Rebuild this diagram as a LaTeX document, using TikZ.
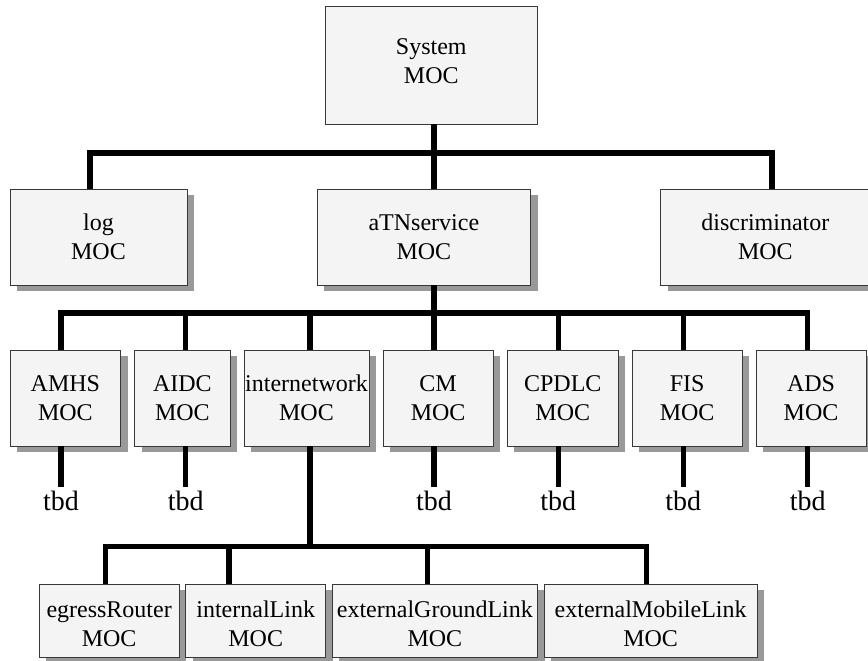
\documentclass[tikz,border=0pt]{standalone}
\usepackage{fontspec}
\setmainfont{Liberation Serif}
\usetikzlibrary{calc,shadows}
\definecolor{boxfill}{HTML}{F4F4F4}
\definecolor{boxline}{HTML}{383838}
\definecolor{shade}{HTML}{999999}
\begin{document}
\begin{tikzpicture}[x=1pt,y=-1pt,
  plainbox/.style={draw=boxline,line width=0.9pt,fill=boxfill,inner sep=0pt,align=center,
    font=\fontsize{24}{28.5}\selectfont},
  moc/.style={plainbox,
    drop shadow={shadow xshift=7pt,shadow yshift=-6pt,fill=shade,opacity=1}},
  bus/.style={line width=5.5pt,line join=miter},
  tbd/.style={font=\fontsize{28}{32}\selectfont,anchor=base}]
  \useasboundingbox (0,0) rectangle (868,661);
  \clip (0,0) rectangle (868,661);
  \fill[white] (0,0) rectangle (868,661);
  \node[plainbox,minimum width=212.7,minimum height=118] (sys) at (431.3,65) {System\\MOC\\[-20.5pt]};
  \foreach \name/\l/\r/\sx/\lab in {
    log/10/187/90/log,
    atn/317/530.7/434/aTNservice,
    disc/660.7/870/772/discriminator} {
    \node[moc,minimum width={\r-\l},minimum height=96] (\name) at ({(\l+\r)/2},237) {\lab\\MOC};
    \coordinate (\name-top) at (\sx,153);
  }
  \draw[bus] (log-top |- log.north) -- (log-top) -- (disc-top) -- (disc-top |- disc.north);
  \draw[bus] (sys.south -| atn-top) -- (atn-top |- atn.north);
  \foreach \name/\l/\r/\sx/\lab in {
    amhs/10/120.7/61/AMHS,
    aidc/134.7/230/185.7/AIDC,
    inet/244/369/310/internetwork,
    cm/383/493.3/434/CM,
    cpdlc/507.3/618.3/558.3/CPDLC,
    fis/632/742.3/683.3/FIS,
    ads/756/866/807.7/ADS} {
    \node[moc,minimum width={\r-\l},minimum height=96] (\name) at ({(\l+\r)/2},398) {\lab\\MOC};
    \coordinate (\name-top) at (\sx,313);
    \draw[bus] (\name-top) -- (\name-top |- \name.north);
  }
  \draw[bus] (amhs-top |- amhs.north) -- (amhs-top) -- (ads-top) -- (ads-top |- ads.north);
  \draw[bus] (atn.south -| cm-top) -- (cm-top);
  \foreach \name in {amhs,aidc,cm,cpdlc,fis,ads} {
    \node[tbd] (\name-tbd) at ($(\name-top)+(0,197)$) {tbd};
    \draw[bus] (\name.south -| \name-top) -- (\name-tbd.north);
  }
  \coordinate (inet-bus) at (310,546.7);
  \draw[bus] (inet.south -| inet-bus) -- (inet-bus);
  \foreach \name/\l/\r/\sx/\lab in {
    egr/39.3/179/105.3/egressRouter,
    ilink/185.7/325.7/229/internalLink,
    xgl/332/537.7/427.3/externalGroundLink,
    xml/544/757.3/646.7/externalMobileLink} {
    \node[moc,minimum width={\r-\l},minimum height=73.4] (\name) at ({(\l+\r)/2},621) {\\[-6pt]\lab\\MOC};
    \coordinate (\name-top) at (\sx,546.7);
    \draw[bus] (\name-top) -- (\name-top |- \name.north);
  }
  \draw[bus] (egr-top |- egr.north) -- (egr-top) -- (xml-top) -- (xml-top |- xml.north);
\end{tikzpicture}
\end{document}
